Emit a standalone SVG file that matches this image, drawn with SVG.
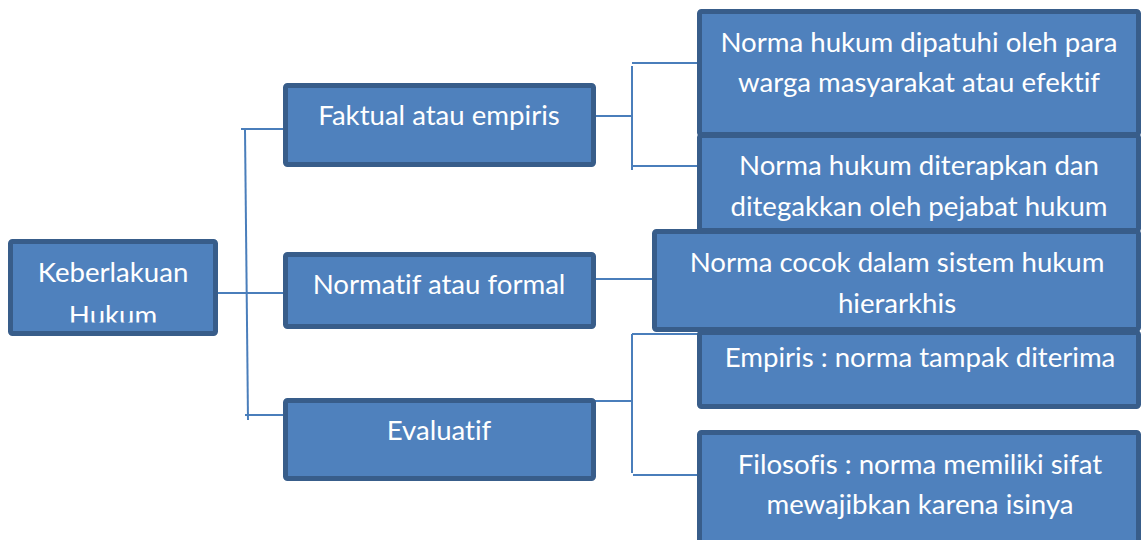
<svg xmlns="http://www.w3.org/2000/svg" width="1141" height="540" viewBox="0 0 1141 540">
<style>
.box{fill:#4F81BD;stroke:#385D8A;stroke-width:5}
.t{font-family:Lato,"Open Sans","Liberation Sans",sans-serif;font-size:27.6px;fill:#FFFFFF;text-anchor:middle;font-variant-ligatures:none}
.c{stroke:#4A7EBB;stroke-width:2;fill:none}
</style>
<defs>
<clipPath id="clipK"><rect x="10" y="241" width="206" height="81.5"/></clipPath>
</defs>
<rect width="1141" height="540" fill="#FFFFFF"/>
<g id="connectors">
<line class="c" x1="245" y1="130" x2="248" y2="420"/>
<line class="c" x1="241" y1="129" x2="285" y2="129"/>
<line class="c" x1="207" y1="293" x2="285" y2="293"/>
<line class="c" x1="245" y1="415" x2="285" y2="415"/>
<line class="c" x1="594" y1="116" x2="632" y2="116"/>
<line class="c" x1="632" y1="66" x2="632" y2="170"/>
<line class="c" x1="632" y1="63" x2="699" y2="63"/>
<line class="c" x1="632" y1="166" x2="699" y2="166"/>
<line class="c" x1="594" y1="279" x2="654" y2="279"/>
<line class="c" x1="594" y1="401" x2="632" y2="401"/>
<line class="c" x1="632" y1="334" x2="632" y2="473"/>
<line class="c" x1="632" y1="334" x2="699" y2="334"/>
<line class="c" x1="633" y1="475" x2="699" y2="475"/>
</g>
<g id="keberlakuan">
<rect class="box" x="10.5" y="241.5" width="205" height="92" rx="2"/>
<g clip-path="url(#clipK)">
<text class="t" x="113" y="282">Keberlakuan</text>
<text class="t" x="113" y="325">Hukum</text>
</g>
</g>
<g id="faktual">
<rect class="box" x="285.5" y="85.5" width="308" height="79" rx="2"/>
<text class="t" x="439" y="125">Faktual atau empiris</text>
</g>
<g id="normatif">
<rect class="box" x="285.5" y="254.5" width="308" height="72" rx="2"/>
<text class="t" x="439" y="294">Normatif atau formal</text>
</g>
<g id="evaluatif">
<rect class="box" x="285.5" y="400.5" width="308" height="78" rx="2"/>
<text class="t" x="439" y="440">Evaluatif</text>
</g>
<g id="dipatuhi">
<rect class="box" x="699.5" y="11.5" width="439" height="123" rx="2"/>
<text class="t" x="919" y="52">Norma hukum dipatuhi oleh para</text>
<text class="t" x="919" y="92">warga masyarakat atau efektif</text>
</g>
<g id="diterapkan">
<rect class="box" x="699.5" y="135.5" width="439" height="95" rx="2"/>
<text class="t" x="919" y="175">Norma hukum diterapkan dan</text>
<text class="t" x="919" y="216">ditegakkan oleh pejabat hukum</text>
</g>
<g id="empiris">
<rect class="box" x="699.5" y="332.5" width="439" height="74" rx="2"/>
<text class="t" x="920" y="367">Empiris : norma tampak diterima</text>
</g>
<g id="filosofis">
<rect class="box" x="699.5" y="432.5" width="439" height="120" rx="2"/>
<text class="t" x="920" y="474">Filosofis : norma memiliki sifat</text>
<text class="t" x="920" y="514">mewajibkan karena isinya</text>
</g>
<g id="cocok">
<rect class="box" x="654.5" y="231.5" width="484" height="98" rx="2"/>
<text class="t" x="897" y="272">Norma cocok dalam sistem hukum</text>
<text class="t" x="897" y="313">hierarkhis</text>
</g>
</svg>
